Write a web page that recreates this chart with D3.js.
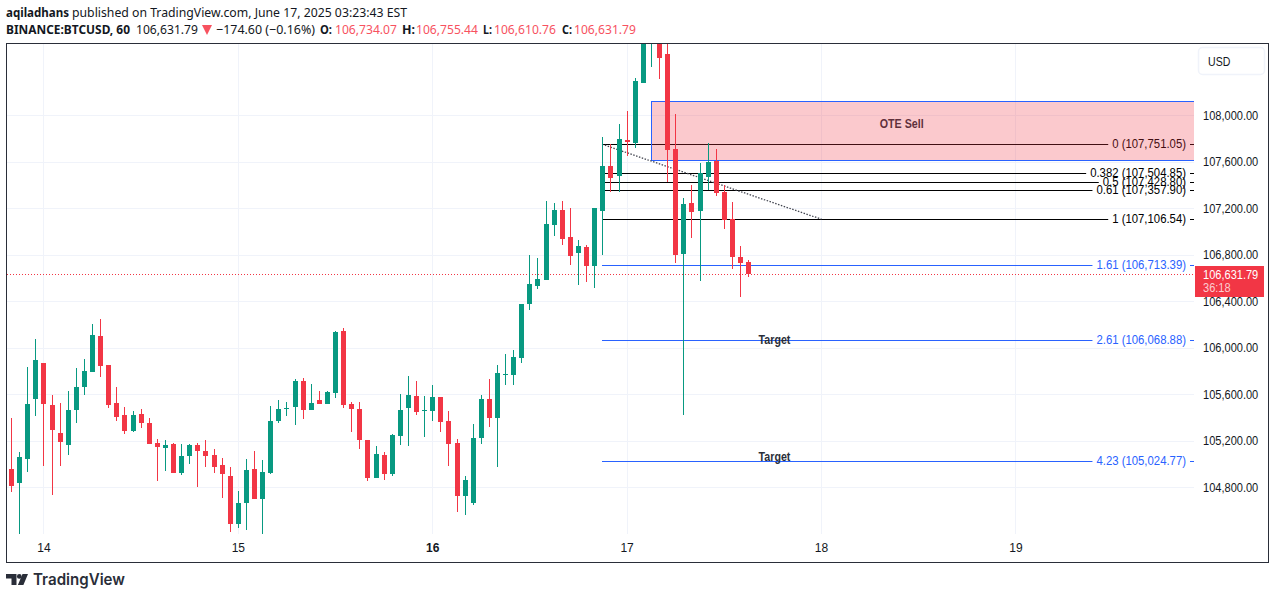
<!DOCTYPE html>
<html>
  <head>
    <meta charset="utf-8">
    <title>BTCUSD 60</title>
    <script type="text/javascript" src="https://cdn.jsdelivr.net/npm/d3@7/dist/d3.min.js"></script>
    <style>
      html, body { margin: 0; padding: 0; background: #fff; }
      svg { display: block; }
    </style>
  </head>
  <body>
    <svg id="chart" width="1275" height="599"></svg>
    <script type="text/javascript">
      // hourly candles, first one is Jun 13 20:00
      var opens = [104957,104837,105043,105559,105869,105508,105267,105164,105465,105663,105792,106101,105852,105525,105422,105284,105430,105353,105181,105138,105172,104923,105069,105164,105112,105078,104992,104897,104484,104665,104957,104699,104923,105370,105473,105491,105714,105465,105551,105516,105611,106144,105516,105473,105207,104880,105078,104914,105241,105482,105585,105456,105456,105577,105370,105181,104725,104665,105224,105559,105396,105766,105766,105912,106377,106532,106584,107057,107186,106954,106816,106868,106704,107177,107564,107478,107788,107762,108278,108660,108720,108527,107710,106807,107246,107177,107470,107607,107341,107108,106782,106734.07];
      var highs = [105396,105104,105835,106076,105869,105594,105525,105628,105826,105904,106205,106248,105852,105663,105491,105456,105473,105396,105215,105207,105181,105172,105172,105181,105207,105129,105052,104975,104768,105043,105112,105035,105499,105551,105534,105732,105740,105689,105628,105628,106144,106170,105534,105534,105207,105155,105104,105258,105603,105757,105714,105585,105680,105577,105456,105215,104897,105344,105594,105732,105852,105947,105981,106377,106799,106773,107263,107246,107263,107203,106928,106885,107203,107813,107753,107925,108037,108321,108800,108960,108800,108660,108012,107289,107401,107590,107762,107710,107401,107255,106876,106755.44];
      var lows = [104760,104398,104932,105413,104983,104734,104983,105078,105353,105594,105792,105749,105482,105370,105258,105276,105310,105172,104854,104940,104923,104906,105000,104803,104975,104923,104708,104416,104450,104433,104699,104398,104914,105353,105413,105336,105387,105465,105516,105516,105568,105482,105276,105129,104854,104880,104863,104897,105164,105155,105422,105233,105370,105276,104983,104588,104562,104648,105172,105319,104975,105680,105680,105869,106326,106506,106584,106962,106885,106713,106541,106566,106515,106799,107340,107340,107650,107719,108278,108416,108313,107427,106730,105422,106945,106575,107358,107306,107022,106678,106438,106610.76];
      var closes = [104814,105061,105516,105895,105516,105293,105190,105465,105663,105800,106110,105843,105508,105405,105284,105422,105353,105172,105147,105164,104923,105069,105164,105112,105069,104975,104914,104484,104665,104949,104699,104932,105370,105473,105482,105714,105465,105525,105516,105620,106136,105508,105473,105207,104880,105086,104914,105250,105465,105594,105448,105465,105577,105362,105172,104725,104863,105224,105559,105396,105783,105775,105921,106377,106549,106592,107065,107186,106936,106790,106876,106704,107203,107564,107461,107796,107771,108295,108720,108900,108493,107702,106799,107237,107169,107504,107599,107332,107103,106782,106730,106631.79];

      var priceTicks = [104800, 105200, 105600, 106000, 106400, 106800, 107200, 107600, 108000];
      var dayTicks = [14, 15, 16, 17, 18, 19];

      var fibRatios = [0, 0.382, 0.5, 0.61, 1, 1.61, 2.61, 4.23];
      var fibPrices = [107751.05, 107504.85, 107428.80, 107357.90, 107106.54, 106713.39, 106068.88, 105024.77];

      var countdown = "36:18";
      var titleLine = "aqiladhans";
      var titleRest = "published on TradingView.com, June 17, 2025 03:23:43 EST";

      var FONT = "'Liberation Sans', Arial, sans-serif";
      var HEAD = "'Noto Sans', sans-serif";
      var UP = "#089981", DOWN = "#f23645", BLUE = "#2962ff", INK = "#131722", GRID = "#f0f3fa", LEGEND_RED = "#f7525f";

      var svg = d3.select("#chart");

      function day(d, h) { return new Date(Date.UTC(2025, 5, d, h || 0)); }

      // time and price scales, calibrated on the day and price grid lines
      var x = d3.scaleUtc().domain([day(14), day(19)]).range([43.9, 1015.9]);
      var y = d3.scaleLinear().domain([104800, 108000]).range([487.3, 115.3]);
      var money = d3.format(",.2f");

      function col(t) { return Math.floor(x(t)); }
      function row(p) { return Math.round(y(p)); }

      // reference text is 12px but set tighter than the installed faces
      function fit(sel, f) {
        sel.attr("font-family", FONT).attr("font-size", 12).each(function() {
          this.setAttribute("textLength", this.getComputedTextLength() * f);
          this.setAttribute("lengthAdjust", "spacingAndGlyphs");
        });
      }

      svg.append("rect").attr("width", 1275).attr("height", 599).attr("fill", "#fff");

      svg.append("clipPath").attr("id", "pane").append("rect")
        .attr("x", 7).attr("y", 44).attr("width", 1187).attr("height", 490);

      var pane = svg.append("g").attr("clip-path", "url(#pane)");

      // grid
      pane.append("g").selectAll("line").data(priceTicks).enter().append("line")
        .attr("x1", 7).attr("x2", 1194)
        .attr("y1", function(d) { return row(d) + 0.5; })
        .attr("y2", function(d) { return row(d) + 0.5; })
        .attr("stroke", GRID);
      pane.append("g").selectAll("line").data(dayTicks).enter().append("line")
        .attr("y1", 44).attr("y2", 534)
        .attr("x1", function(d) { return col(day(d)) + 0.5; })
        .attr("x2", function(d) { return col(day(d)) + 0.5; })
        .attr("stroke", GRID);

      // fib drawing, sits below the zone and the candles
      var fibStart = day(16, 21);
      var fib = fibRatios.map(function(r, i) { return { ratio: r, price: fibPrices[i] }; });
      function fibColor(d) { return d.ratio > 1 ? BLUE : "#000"; }

      var fibG = pane.append("g").selectAll("g").data(fib).enter().append("g");
      fibG.append("text")
        .attr("x", 1186)
        .attr("y", function(d) { return row(d.price) + 4; })
        .attr("text-anchor", "end")
        .attr("fill", fibColor)
        .text(function(d) { return d.ratio + " (" + money(d.price) + ")"; })
        .call(fit, 0.945);
      fibG.append("line")
        .attr("x1", col(fibStart))
        .attr("x2", function(d) { return 1186 - this.parentNode.querySelector("text").getAttribute("textLength") - 4; })
        .attr("y1", function(d) { return row(d.price) + 0.5; })
        .attr("y2", function(d) { return row(d.price) + 0.5; })
        .attr("stroke", fibColor);
      fibG.append("line")
        .attr("x1", 1190).attr("x2", 1194)
        .attr("y1", function(d) { return row(d.price) + 0.5; })
        .attr("y2", function(d) { return row(d.price) + 0.5; })
        .attr("stroke", fibColor);

      // notes
      function note(label, hour, price) {
        pane.append("text")
          .attr("x", x(new Date(+day(14) + hour * 36e5)))
          .attr("y", y(price) + 4)
          .attr("text-anchor", "middle")
          .attr("font-weight", "bold")
          .attr("fill", "#2a2e39")
          .text(label)
          .call(fit, 0.89);
      }
      note("OTE Sell", 105.9, 107925);
      note("Target", 90.2, 106067);
      note("Target", 90.2, 105061);

      // current price line
      var lastClose = closes[closes.length - 1];
      pane.append("line")
        .attr("x1", 7).attr("x2", 1194)
        .attr("y1", row(lastClose) + 0.5).attr("y2", row(lastClose) + 0.5)
        .attr("stroke", DOWN).attr("stroke-dasharray", "1,2");

      // zone
      pane.append("rect")
        .attr("x", col(day(17, 3)) + 0.5)
        .attr("y", row(108120) + 0.5)
        .attr("width", 1194 - col(day(17, 3)))
        .attr("height", row(107612) - row(108120))
        .attr("fill", "#f23645").attr("fill-opacity", 0.27)
        .attr("stroke", BLUE);

      // trend line
      pane.append("line")
        .attr("x1", col(fibStart)).attr("y1", y(107751))
        .attr("x2", x(day(18))).attr("y2", y(107106))
        .attr("stroke", "#434651").attr("stroke-width", 1.3).attr("stroke-dasharray", "1.5,1.5");

      // candles
      var candles = opens.map(function(o, i) {
        return { t: new Date(+day(13, 20) + i * 36e5), o: o, h: highs[i], l: lows[i], c: closes[i] };
      });
      function tone(d) { return d.c >= d.o ? UP : DOWN; }

      var candle = pane.append("g").selectAll("g").data(candles).enter().append("g");
      candle.append("rect")
        .attr("x", function(d) { return col(d.t); })
        .attr("width", 1)
        .attr("y", function(d) { return row(d.h); })
        .attr("height", function(d) { return Math.max(1, row(d.l) - row(d.h)); })
        .attr("fill", tone);
      candle.append("rect")
        .attr("x", function(d) { return col(d.t) - 2; })
        .attr("width", 5)
        .attr("y", function(d) { return row(Math.max(d.o, d.c)); })
        .attr("height", function(d) { return Math.max(1, row(Math.min(d.o, d.c)) - row(Math.max(d.o, d.c))); })
        .attr("fill", tone);

      // axes
      var priceAxis = svg.append("g")
        .attr("transform", "translate(1197,0)")
        .call(d3.axisRight(y).tickValues(priceTicks).tickFormat(money).tickSize(0).tickPadding(6));
      priceAxis.select(".domain").remove();
      priceAxis.selectAll("text").attr("fill", INK).call(fit, 0.92);

      var timeAxis = svg.append("g")
        .attr("transform", "translate(-0.5,543.5)")
        .call(d3.axisBottom(x).tickValues(dayTicks.map(function(d) { return day(d); }))
          .tickFormat(d3.utcFormat("%-d")).tickSize(0).tickPadding(0));
      timeAxis.select(".domain").remove();
      timeAxis.selectAll("text")
        .attr("font-family", FONT).attr("font-size", 12).attr("fill", INK)
        .attr("font-weight", function(d) { return d.getUTCDate() === 16 ? "bold" : "normal"; });

      // last price tag
      svg.append("rect").attr("x", 1195).attr("y", 266).attr("width", 69).attr("height", 31).attr("fill", DOWN);
      svg.append("text").attr("x", 1203).attr("y", 278.5)
        .attr("fill", "#fff").text(money(lastClose)).call(fit, 0.92);
      svg.append("text").attr("x", 1203).attr("y", 292)
        .attr("fill", "#fff").attr("fill-opacity", 0.75).text(countdown).call(fit, 0.92);

      // currency button
      svg.append("rect").attr("x", 1198.5).attr("y", 47.5).attr("width", 66).attr("height", 27).attr("rx", 4)
        .attr("fill", "#fff").attr("stroke", GRID).attr("stroke-width", 1.5);
      svg.append("text").attr("x", 1208).attr("y", 66)
        .attr("fill", INK).text("USD").call(fit, 0.88);

      // frame
      svg.append("rect").attr("x", 6.5).attr("y", 43.5).attr("width", 1262).attr("height", 519)
        .attr("fill", "none").attr("stroke", "#2a2e39");

      // header
      function head(txt, x0, x1, baseline, bold, fill) {
        svg.append("text")
          .attr("x", x0).attr("y", baseline)
          .attr("textLength", x1 - x0).attr("lengthAdjust", "spacingAndGlyphs")
          .attr("font-family", HEAD).attr("font-size", 13)
          .attr("font-weight", bold ? "bold" : "normal")
          .attr("fill", fill || INK)
          .text(txt);
      }
      head(titleLine, 6, 69, 17, true);
      head(titleRest, 72, 407, 17, false);
      head("BINANCE:BTCUSD, 60", 6, 130, 34, true);
      head(money(lastClose), 136, 198, 34, false);
      svg.append("path").attr("d", "M202,25h10l-5,10z").attr("fill", LEGEND_RED);
      head("\u2212174.60 (\u22120.16%)", 216, 315, 34, false);
      var ohlc = [["O:", opens, 320, 332, 335, 397], ["H:", highs, 402, 415, 416, 478],
                  ["L:", lows, 483, 492, 494, 556], ["C:", closes, 562, 572, 574, 636]];
      ohlc.forEach(function(p) {
        head(p[0], p[2], p[3], 34, true);
        head(money(p[1][p[1].length - 1]), p[4], p[5], 34, false, LEGEND_RED);
      });

      // footer logo
      var logo = svg.append("g").attr("fill", "#2a2e39");
      logo.append("path").attr("d", "M6,574h10.5v11h-5v-6.5h-5.5zM22.5,574h5.5l-4.6,11h-5.5z");
      logo.append("circle").attr("cx", 19.3).attr("cy", 576.4).attr("r", 2.4);
      logo.append("text").attr("x", 33).attr("y", 585)
        .attr("textLength", 92).attr("lengthAdjust", "spacingAndGlyphs")
        .attr("font-family", "Inter, sans-serif").attr("font-weight", 600).attr("font-size", 16)
        .text("TradingView");
    </script>
  </body>
</html>
